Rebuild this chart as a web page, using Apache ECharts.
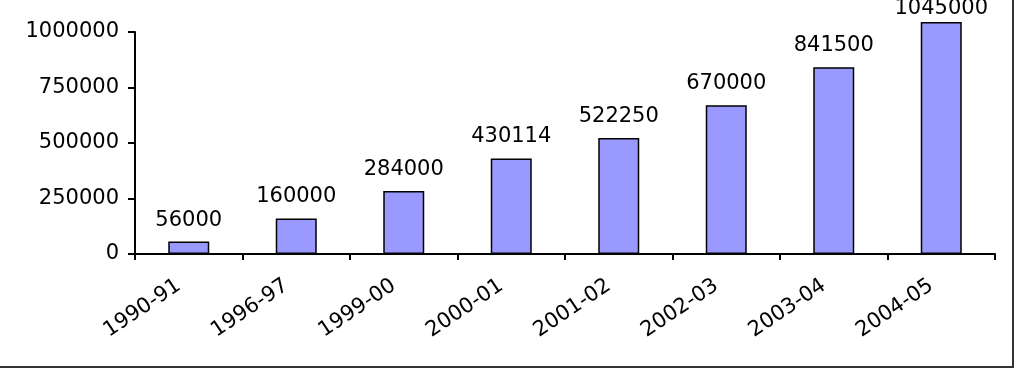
<!DOCTYPE html>
<html><head><meta charset="utf-8">
<script src="https://cdn.jsdelivr.net/npm/echarts@6/dist/echarts.min.js"></script>
<style>html,body{margin:0;padding:0;background:#fff}#c{width:1024px;height:375px}</style>
</head><body><div id="c"></div>
<script>
const categories = ['1990-91','1996-97','1999-00','2000-01','2001-02','2002-03','2003-04','2004-05'];
const values = [56000,160000,284000,430114,522250,670000,841500,1045000];
const yTicks = [0,250000,500000,750000,1000000];
const yMax = 1000000;
const font = 'DejaVu Sans';
const chart = echarts.init(document.getElementById('c'));
const barData = values.map(v => v > yMax ? {value:v, label:{distance:3}} : v);
chart.setOption({
  animation:false,
  backgroundColor:'#fff',
  grid:{left:135,right:29,top:32,bottom:121,containLabel:false},
  graphic:[{type:'rect',shape:{x:-2,y:-2,width:1015,height:369},style:{fill:'none',stroke:'#333',lineWidth:2},silent:true}],
  xAxis:{type:'category',data:categories,boundaryGap:true,
    axisLine:{lineStyle:{color:'#000',width:2}},
    axisTick:{show:true,alignWithLabel:false,length:6,lineStyle:{color:'#000',width:2}},
    axisLabel:{rotate:34,interval:0,margin:23,padding:[0,12,0,0],color:'#000',fontFamily:font,fontSize:21}},
  yAxis:{type:'value',min:0,max:yMax,interval:250000,
    splitLine:{show:false},
    axisLine:{show:true,lineStyle:{color:'#000',width:2}},
    axisTick:{show:true,length:7,lineStyle:{color:'#000',width:2}},
    axisLabel:{margin:16,color:'#000',fontFamily:font,fontSize:21,
      formatter:v=>yTicks.includes(v)?String(v):''}},
  series:[{type:'bar',data:barData,barWidth:41,clip:false,
    itemStyle:{color:'#9999FF',borderColor:'#000',borderWidth:1.5},
    label:{show:true,position:'top',distance:11,color:'#000',fontFamily:font,fontSize:21}}]
});
</script></body></html>
